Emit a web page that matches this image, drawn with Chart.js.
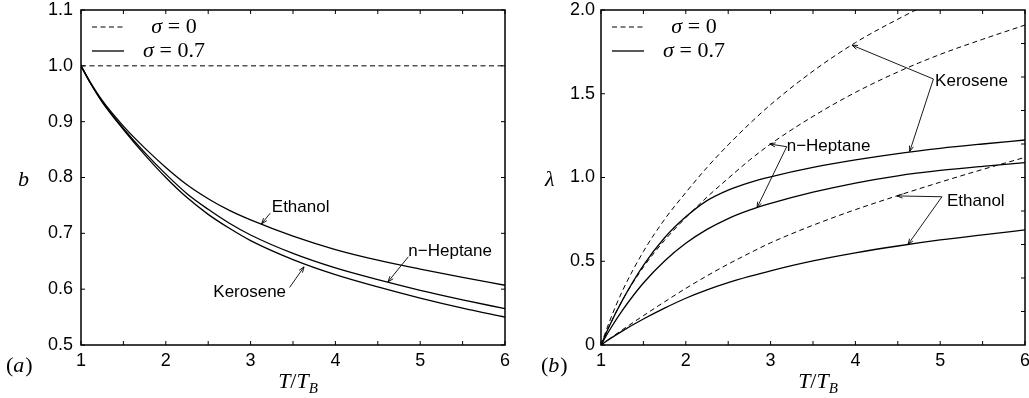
<!DOCTYPE html>
<html lang="en">
<head>
  <meta charset="UTF-8" />
  <title>b and lambda against T/T_B</title>
  <script src="https://cdn.jsdelivr.net/npm/chart.js@4"></script>
  <style>
    html, body { margin: 0; padding: 0; background: #fff; }
    #wrap { position: relative; width: 1029px; height: 398px; }
    .panel { position: absolute; top: 0; }
    #panelA { left: 0; }
    #panelB { left: 515px; }
  </style>
</head>
<body>
  <div id="wrap">
    <div class="panel" id="panelA"><canvas id="chartA" width="515" height="398"></canvas></div>
    <div class="panel" id="panelB"><canvas id="chartB" width="514" height="398"></canvas></div>
  </div>

  <script>
    // T/T_B sample points
    const tRatio = [1, 1.1, 1.25, 1.5, 1.75, 2, 2.25, 2.5, 2.75, 3, 3.5, 4, 4.5, 5, 5.5, 6];

    // (a) b against T/T_B
    const bSigma0     = [1, 1, 1, 1, 1, 1, 1, 1, 1, 1, 1, 1, 1, 1, 1, 1];
    const bEthanol07  = [1, 0.973, 0.938, 0.892, 0.853, 0.818, 0.787, 0.762, 0.741, 0.724, 0.695, 0.671, 0.652, 0.636, 0.621, 0.607];
    const bHeptane07  = [1, 0.972, 0.936, 0.888, 0.845, 0.806, 0.771, 0.743, 0.718, 0.697, 0.664, 0.638, 0.617, 0.598, 0.581, 0.565];
    const bKerosene07 = [1, 0.972, 0.935, 0.886, 0.841, 0.800, 0.764, 0.734, 0.709, 0.687, 0.653, 0.626, 0.604, 0.584, 0.566, 0.550];

    // (b) lambda against T/T_B
    const lamKerosene0  = [0, 0.14, 0.32, 0.558, 0.75, 0.91, 1.06, 1.195, 1.32, 1.435, 1.635, 1.805, 1.945, 2.07, 2.18, 2.28];
    const lamHeptane0   = [0, 0.115, 0.265, 0.465, 0.625, 0.76, 0.883, 0.995, 1.103, 1.2, 1.365, 1.508, 1.63, 1.735, 1.825, 1.91];
    const lamEthanol0   = [0, 0.037, 0.09, 0.175, 0.258, 0.338, 0.413, 0.483, 0.548, 0.61, 0.715, 0.808, 0.892, 0.972, 1.048, 1.12];
    const lamKerosene07 = [0, 0.115, 0.265, 0.475, 0.64, 0.765, 0.862, 0.925, 0.97, 1.004, 1.06, 1.105, 1.143, 1.174, 1.2, 1.224];
    const lamHeptane07  = [0, 0.088, 0.205, 0.37, 0.502, 0.607, 0.69, 0.755, 0.805, 0.845, 0.912, 0.967, 1.01, 1.042, 1.067, 1.089];
    const lamEthanol07  = [0, 0.035, 0.083, 0.155, 0.22, 0.279, 0.329, 0.372, 0.409, 0.443, 0.502, 0.55, 0.591, 0.627, 0.658, 0.687];

    // tick marks
    const xTickMarks = [1, 1.5, 2, 2.5, 3, 3.5, 4, 4.5, 5, 5.5, 6];
    const aYTicks = [0.5, 0.6, 0.7, 0.8, 0.9, 1.0, 1.1];
    const bYTicks = [0, 0.5, 1.0, 1.5, 2.0];
    const bRightTicks = [0.2, 0.4, 0.6, 0.8, 1.0, 1.2, 1.4, 1.6, 1.8];

    // labels with arrows, in data units
    const aNotes = [
      { text: 'Ethanol',   at: [3.25, 0.746], from: [3.23, 0.736], to: [[3.13, 0.717]] },
      { text: 'n\u2212Heptane', at: [4.86, 0.668], from: [4.86, 0.658], to: [[4.62, 0.613]] },
      { text: 'Kerosene',  at: [2.56, 0.595], from: [3.46, 0.603], to: [[3.63, 0.640]] }
    ];
    const bNotes = [
      { text: 'Kerosene',  at: [4.94, 1.576], from: [4.92, 1.588], to: [[3.96, 1.79], [4.64, 1.155]] },
      { text: 'n\u2212Heptane', at: [3.19, 1.188], from: [3.19, 1.184], to: [[2.99, 1.2], [2.84, 0.82]] },
      { text: 'Ethanol',   at: [5.08, 0.86], from: [5.02, 0.885], to: [[4.49, 0.89], [4.62, 0.6]] }
    ];

    const SANS = '"Liberation Sans", Arial, sans-serif';
    const SERIF = '"Liberation Serif", "Times New Roman", serif';
    const DASH = [5, 3.5];

    function pts(ys) {
      return tRatio.map((t, i) => ({ x: t, y: ys[i] }));
    }

    function curve(ys, dashed) {
      return {
        data: pts(ys),
        borderColor: '#000',
        borderWidth: dashed ? 1 : 1.3,
        borderDash: dashed ? DASH : [],
        pointRadius: 0,
        cubicInterpolationMode: 'monotone',
        fill: false
      };
    }

    function arrow(ctx, x0, y0, x1, y1) {
      ctx.beginPath();
      ctx.moveTo(x0, y0);
      ctx.lineTo(x1, y1);
      const ang = Math.atan2(y1 - y0, x1 - x0);
      const len = 6, spread = 0.35;
      ctx.moveTo(x1 - len * Math.cos(ang - spread), y1 - len * Math.sin(ang - spread));
      ctx.lineTo(x1, y1);
      ctx.lineTo(x1 - len * Math.cos(ang + spread), y1 - len * Math.sin(ang + spread));
      ctx.stroke();
    }

    // sigma label: italic sigma then upright " = value"
    function sigmaText(ctx, cx, cy, val) {
      ctx.textBaseline = 'middle';
      ctx.textAlign = 'left';
      ctx.font = 'italic 22px ' + SERIF;
      const w1 = ctx.measureText('\u03c3').width;
      ctx.font = '22px ' + SERIF;
      const rest = ' = ' + val;
      const w2 = ctx.measureText(rest).width;
      let x = cx - (w1 + w2) / 2;
      ctx.font = 'italic 22px ' + SERIF;
      ctx.fillText('\u03c3', x, cy);
      ctx.font = '22px ' + SERIF;
      ctx.fillText(rest, x + w1, cy);
    }

    const deco = {
      id: 'deco',
      afterDatasetsDraw(chart, args, o) {
        const { ctx, chartArea: a } = chart;
        const sx = chart.scales.x, sy = chart.scales.y;
        ctx.save();
        ctx.strokeStyle = '#000';
        ctx.fillStyle = '#000';

        // frame
        ctx.lineWidth = 1.5;
        ctx.strokeRect(a.left, a.top, a.right - a.left, a.bottom - a.top);

        // inward ticks
        ctx.lineWidth = 1;
        ctx.beginPath();
        xTickMarks.forEach(v => {
          const p = sx.getPixelForValue(v);
          ctx.moveTo(p, a.bottom); ctx.lineTo(p, a.bottom - 4);
          ctx.moveTo(p, a.top); ctx.lineTo(p, a.top + 4);
        });
        o.leftTicks.forEach(v => {
          const p = sy.getPixelForValue(v);
          ctx.moveTo(a.left, p); ctx.lineTo(a.left + 4, p);
        });
        o.rightTicks.forEach(v => {
          const p = sy.getPixelForValue(v);
          ctx.moveTo(a.right, p); ctx.lineTo(a.right - 4, p);
        });
        ctx.stroke();

        // legend
        ctx.lineWidth = 1;
        ctx.setLineDash(DASH);
        ctx.beginPath();
        ctx.moveTo(a.left + 11, a.top + 17); ctx.lineTo(a.left + 43, a.top + 17);
        ctx.stroke();
        ctx.setLineDash([]);
        ctx.lineWidth = 1.3;
        ctx.beginPath();
        ctx.moveTo(a.left + 11, a.top + 41); ctx.lineTo(a.left + 43, a.top + 41);
        ctx.stroke();
        sigmaText(ctx, a.left + 93, a.top + 17, '0');
        sigmaText(ctx, a.left + 93, a.top + 41, '0.7');

        // notes with arrows
        ctx.lineWidth = 0.9;
        ctx.font = '17px ' + SANS;
        ctx.textAlign = 'left';
        ctx.textBaseline = 'middle';
        o.notes.forEach(n => {
          ctx.fillText(n.text, sx.getPixelForValue(n.at[0]), sy.getPixelForValue(n.at[1]));
          const fx = sx.getPixelForValue(n.from[0]), fy = sy.getPixelForValue(n.from[1]);
          n.to.forEach(t => arrow(ctx, fx, fy, sx.getPixelForValue(t[0]), sy.getPixelForValue(t[1])));
        });

        // y axis symbol
        ctx.font = 'italic 22px ' + SERIF;
        ctx.textAlign = 'left';
        ctx.fillText(o.yLabel, o.yLabelX, (a.top + a.bottom) / 2 + 3);

        // panel letter (a) / (b)
        ctx.font = '22px ' + SERIF;
        const lp = ctx.measureText('(').width;
        ctx.fillText('(', o.letterX, 366);
        ctx.font = 'italic 22px ' + SERIF;
        const lw = ctx.measureText(o.letter).width;
        ctx.fillText(o.letter, o.letterX + lp, 366);
        ctx.font = '22px ' + SERIF;
        ctx.fillText(')', o.letterX + lp + lw + 1, 366);

        // x axis title T/T_B
        ctx.textBaseline = 'alphabetic';
        const parts = [
          ['italic 22px ' + SERIF, 'T', 0],
          ['22px ' + SERIF, '/', 0],
          ['italic 22px ' + SERIF, 'T', 0],
          ['italic 15px ' + SERIF, 'B', 5]
        ];
        let total = 0;
        parts.forEach(p => { ctx.font = p[0]; total += ctx.measureText(p[1]).width; });
        let x = (a.left + a.right) / 2 + 5 - total / 2;
        parts.forEach(p => {
          ctx.font = p[0];
          ctx.fillText(p[1], x, 388 + p[2]);
          x += ctx.measureText(p[1]).width;
        });
        ctx.restore();
      }
    };

    function makeChart(id, datasets, cfg) {
      return new Chart(document.getElementById(id), {
        type: 'line',
        data: { datasets: datasets },
        plugins: [deco],
        options: {
          responsive: false,
          animation: false,
          events: [],
          layout: { padding: { left: 0, right: cfg.padRight, top: 10, bottom: 0 } },
          plugins: {
            legend: { display: false },
            tooltip: { enabled: false },
            deco: cfg.deco
          },
          scales: {
            x: {
              type: 'linear',
              min: 1,
              max: 6,
              ticks: {
                stepSize: 1,
                color: '#000',
                font: { family: SANS, size: 18 },
                padding: 5,
                maxRotation: 0,
                autoSkip: false
              },
              grid: { display: false, drawTicks: false },
              border: { display: false },
              afterFit: s => { s.height = 53; s.paddingLeft = 0; s.paddingRight = 0; }
            },
            y: {
              min: cfg.yMin,
              max: cfg.yMax,
              afterBuildTicks: s => { s.ticks = cfg.yTicks.map(v => ({ value: v })); },
              ticks: {
                color: '#000',
                font: { family: SANS, size: 18 },
                padding: cfg.yPad,
                callback: v => (v === 0 ? '0' : Number(v).toFixed(1))
              },
              grid: { display: false, drawTicks: false },
              border: { display: false },
              afterFit: s => { s.width = cfg.axisWidth; s.paddingTop = 0; s.paddingBottom = 0; }
            }
          }
        }
      });
    }

    makeChart('chartA', [
      curve(bSigma0, true),
      curve(bEthanol07, false),
      curve(bHeptane07, false),
      curve(bKerosene07, false)
    ], {
      padRight: 10, axisWidth: 81, yMin: 0.5, yMax: 1.1, yTicks: aYTicks, yPad: 8,
      deco: { leftTicks: aYTicks, rightTicks: aYTicks, notes: aNotes, yLabel: 'b', yLabelX: 18, letter: 'a', letterX: 6 }
    });

    makeChart('chartB', [
      curve(lamKerosene0, true),
      curve(lamHeptane0, true),
      curve(lamEthanol0, true),
      curve(lamKerosene07, false),
      curve(lamHeptane07, false),
      curve(lamEthanol07, false)
    ], {
      padRight: 4, axisWidth: 86, yMin: 0, yMax: 2.0, yTicks: bYTicks, yPad: 6,
      deco: { leftTicks: bYTicks, rightTicks: bRightTicks, notes: bNotes, yLabel: '\u03bb', yLabelX: 30, letter: 'b', letterX: 26 }
    });
  </script>
</body>
</html>
